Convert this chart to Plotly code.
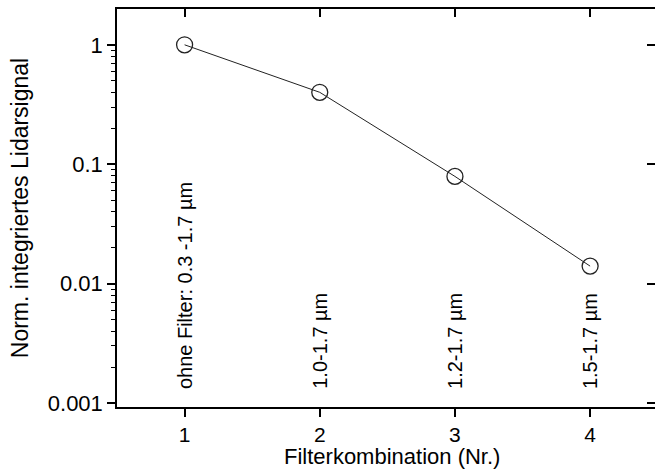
import plotly.graph_objects as go

# Filter combinations and normalised integrated lidar signal
filter_nr = [1, 2, 3, 4]
signal = [1.0, 0.40, 0.079, 0.014]
filter_labels = ["ohne Filter: 0.3 -1.7 µm", "1.0-1.7 µm", "1.2-1.7 µm", "1.5-1.7 µm"]

y_tickvals = [0.001, 0.01, 0.1, 1]
y_ticktext = ["0.001", "0.01", "0.1", "1"]
x_tickvals = [1, 2, 3, 4]

FONT = "Liberation Sans, Arial, sans-serif"
X_RANGE = [0.5, 4.48]
Y_RANGE = [-3.034, 0.30]

fig = go.Figure()

fig.add_trace(go.Scatter(
    x=filter_nr, y=signal, mode="lines+markers",
    line=dict(color="#222222", width=1),
    marker=dict(symbol="circle-open", size=16, color="#222222", line=dict(width=1.3)),
    showlegend=False, cliponaxis=False,
))

# invisible trace so the mirrored top/right axes are drawn
fig.add_trace(go.Scatter(x=[1], y=[1], xaxis="x2", yaxis="y2", mode="markers",
                         marker=dict(opacity=0), showlegend=False, hoverinfo="skip"))

for xv, txt in zip(filter_nr, filter_labels):
    fig.add_annotation(
        x=xv, y=-2.9, xref="x", yref="y", text=txt, textangle=-90,
        showarrow=False, xanchor="center", yanchor="bottom",
        font=dict(family=FONT, size=20, color="black"),
    )

# x-axis title placed below the tick labels
fig.add_annotation(
    x=0.511, y=-0.162, xref="paper", yref="paper", text="Filterkombination (Nr.)",
    showarrow=False, xanchor="center", yanchor="bottom",
    font=dict(family=FONT, size=22, color="black"),
)

fig.update_layout(
    width=655, height=471,
    margin=dict(l=117, r=0, t=9, b=64),
    paper_bgcolor="white", plot_bgcolor="white",
    font=dict(family=FONT, color="black"),
    xaxis=dict(
        range=X_RANGE, tickvals=x_tickvals, ticks="outside", ticklen=8, tickwidth=1.5,
        tickcolor="black", showline=True, linecolor="black", linewidth=1.5,
        showgrid=False, zeroline=False, tickfont=dict(size=21),
    ),
    yaxis=dict(
        type="log", range=Y_RANGE, tickvals=y_tickvals, ticktext=y_ticktext,
        ticks="outside", ticklen=8, tickwidth=1.5, tickcolor="black",
        showline=True, linecolor="black", linewidth=1.5, showgrid=False,
        zeroline=False, tickfont=dict(size=22),
        minor=dict(ticks="outside", ticklen=4, tickwidth=1, tickcolor="black",
                   dtick="D1", showgrid=False),
        title=dict(text="Norm. integriertes Lidarsignal", font=dict(size=23), standoff=13),
    ),
    xaxis2=dict(
        overlaying="x", side="top", range=X_RANGE, tickvals=x_tickvals,
        ticks="inside", ticklen=8, tickwidth=1.5, tickcolor="black",
        showline=True, linecolor="black", linewidth=1.5, showticklabels=False,
        showgrid=False, zeroline=False,
    ),
    yaxis2=dict(
        overlaying="y", side="right", type="log", range=Y_RANGE, tickvals=y_tickvals,
        ticks="inside", ticklen=8, tickwidth=1.5, tickcolor="black",
        showline=False, showticklabels=False, showgrid=False, zeroline=False,
    ),
)

fig.write_html("out.html")
